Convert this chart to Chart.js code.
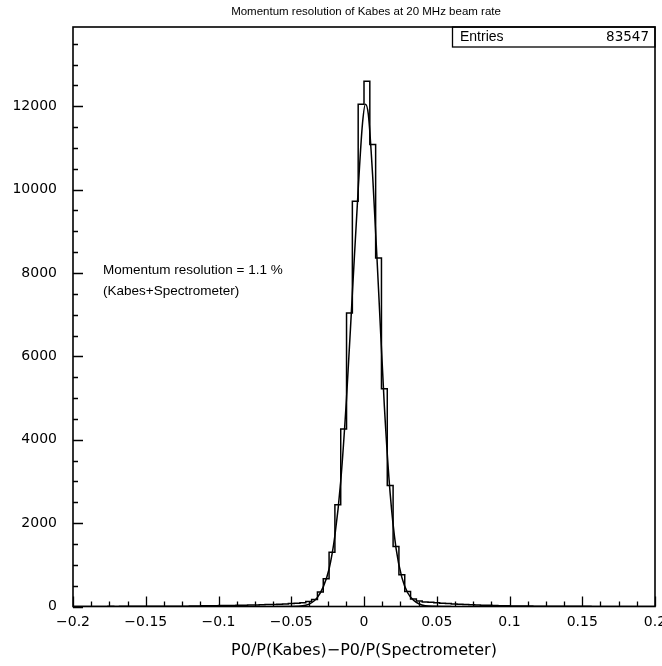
<!DOCTYPE html>
<html>
<head>
<meta charset="utf-8">
<script src="https://cdn.jsdelivr.net/npm/chart.js@4.4.1/dist/chart.umd.min.js"></script>
<style>
  html, body { margin: 0; padding: 0; background: #fff; }
  #plot { display: block; }
</style>
</head>
<body>
<canvas id="plot" width="662" height="666"></canvas>
<script>
// histogram: 100 bins of 0.004 from -0.2 to 0.2 (counts)
const binStart = -0.2;
const binWidth = 0.004;
const binCounts = [
    1, 1, 2, 1, 2, 2, 3, 2, 3, 3,
    3, 4, 4, 5, 5, 6, 6, 7, 8, 8,
    12, 13, 15, 17, 19, 21, 23, 26, 29, 32,
    35, 38, 42, 46, 50, 55, 62, 70, 80, 90,
    120, 170, 350, 665, 1300, 2440, 4260, 7040, 9720, 12050,
    12600, 11080, 8360, 5220, 2900, 1440, 760, 360, 180, 130,
    110, 100, 90, 80, 70, 62, 55, 48, 42, 36,
    31, 27, 23, 20, 17, 14, 12, 10, 9, 8,
    7, 6, 5, 5, 4, 4, 3, 3, 3, 2,
    2, 2, 2, 1, 1, 1, 1, 1, 1, 1
];

// fitted curve, points
const fitX = [-0.06, -0.045, -0.04, -0.036, -0.032, -0.028, -0.024, -0.02, -0.016, -0.012, -0.008, -0.004, -0.001, 0.001, 0.003, 0.006, 0.01, 0.014, 0.018, 0.022, 0.026, 0.03, 0.034, 0.038, 0.042, 0.048, 0.06];
const fitY = [0, 8, 30, 90, 220, 470, 900, 1700, 3000, 5000, 7500, 10000, 11600, 12050, 11800, 10300, 7600, 4800, 2700, 1400, 700, 330, 150, 60, 20, 5, 0];

// tick labels
const xTickValues = [-0.2, -0.15, -0.1, -0.05, 0, 0.05, 0.1, 0.15, 0.2];
const yTickValues = [0, 2000, 4000, 6000, 8000, 10000, 12000];

const xMin = -0.2, xMax = 0.2;
const yMax = 13900;
const xMinorStep = 0.0125;
const yMajorStep = 2000, yMinorStep = 500;

const titleText = 'Momentum resolution of Kabes at 20 MHz beam rate';
const xTitleText = 'P0/P(Kabes)\u2212P0/P(Spectrometer)';
const noteLines = ['Momentum resolution = 1.1 %', '(Kabes+Spectrometer)'];
const entries = 83547;

const NUM_FONT = '"DejaVu Sans", sans-serif';
const TXT_FONT = '"Liberation Sans", Arial, sans-serif';

const histPoints = binCounts.map((c, i) => ({ x: binStart + i * binWidth, y: c }));
histPoints.push({ x: xMax, y: binCounts[binCounts.length - 1] });
const fitPoints = fitX.map((x, i) => ({ x, y: fitY[i] }));

function fmtX(v) {
    const r = Math.round(v * 1000) / 1000;
    return String(r).replace('-', '\u2212');
}

// frame, inward ticks and the PAW style texts
const pawDecor = {
    id: 'pawDecor',
    afterDraw(chart) {
        const { ctx, chartArea: a, scales: { x, y } } = chart;
        ctx.save();
        ctx.strokeStyle = '#000';
        ctx.lineWidth = 1.6;
        ctx.strokeRect(a.left, a.top, a.right - a.left, a.bottom - a.top);

        ctx.lineWidth = 1.3;
        ctx.beginPath();
        for (let k = 0; k * yMinorStep <= yMax; k++) {
            const v = k * yMinorStep;
            const py = Math.round(y.getPixelForValue(v)) + 0.5;
            const len = v % yMajorStep === 0 ? 10 : 5;
            ctx.moveTo(a.left, py);
            ctx.lineTo(a.left + len, py);
        }
        const nx = Math.round((xMax - xMin) / xMinorStep);
        for (let k = 0; k <= nx; k++) {
            const px = Math.round(x.getPixelForValue(xMin + k * xMinorStep)) + 0.5;
            const len = k % 4 === 0 ? 10 : 5;
            ctx.moveTo(px, a.bottom);
            ctx.lineTo(px, a.bottom - len);
        }
        ctx.stroke();

        ctx.fillStyle = '#000';
        ctx.textBaseline = 'middle';
        ctx.font = '11.5px ' + TXT_FONT;
        ctx.textAlign = 'center';
        ctx.fillText(titleText, 366, 12);

        // entries box
        ctx.lineWidth = 1.3;
        ctx.strokeRect(452.5, a.top, a.right - 452.5, 20);
        ctx.font = '14px ' + TXT_FONT;
        ctx.textAlign = 'left';
        ctx.fillText('Entries', 460, a.top + 10);
        ctx.font = '13.5px ' + NUM_FONT;
        ctx.textAlign = 'right';
        ctx.fillText(String(entries), a.right - 6, a.top + 10);

        ctx.font = '13.5px ' + TXT_FONT;
        ctx.textAlign = 'left';
        ctx.fillText(noteLines[0], 103, 270);
        ctx.fillText(noteLines[1], 103, 291);

        ctx.font = '16px ' + NUM_FONT;
        ctx.textAlign = 'center';
        ctx.fillText(xTitleText, 364, 651);
        ctx.restore();
    }
};

new Chart(document.getElementById('plot').getContext('2d'), {
    type: 'line',
    data: {
        datasets: [
            {
                label: 'histogram',
                data: histPoints,
                stepped: 'before',
                borderColor: '#000',
                borderWidth: 1.5,
                pointRadius: 0,
                fill: false
            },
            {
                label: 'fit',
                data: fitPoints,
                cubicInterpolationMode: 'monotone',
                borderColor: '#000',
                borderWidth: 1.5,
                pointRadius: 0,
                fill: false
            }
        ]
    },
    options: {
        responsive: false,
        animation: false,
        layout: { autoPadding: false, padding: { left: 0, right: 7, top: 27, bottom: 0 } },
        plugins: { legend: { display: false }, tooltip: { enabled: false }, title: { display: false } },
        scales: {
            x: {
                type: 'linear',
                min: xMin,
                max: xMax,
                grid: { display: false, drawTicks: false },
                border: { display: false },
                afterBuildTicks: s => { s.ticks = xTickValues.map(v => ({ value: v })); },
                ticks: {
                    autoSkip: false,
                    maxRotation: 0,
                    padding: 7,
                    color: '#000',
                    font: { family: NUM_FONT, size: 14 },
                    callback: v => fmtX(v)
                },
                afterFit: s => { s.height = 59.5; s.paddingLeft = 0; s.paddingRight = 0; }
            },
            y: {
                type: 'linear',
                min: 0,
                max: yMax,
                grid: { display: false, drawTicks: false },
                border: { display: false },
                afterBuildTicks: s => { s.ticks = yTickValues.map(v => ({ value: v })); },
                ticks: {
                    autoSkip: false,
                    padding: 16,
                    color: '#000',
                    font: { family: NUM_FONT, size: 14 },
                    callback: v => String(v)
                },
                afterFit: s => { s.width = 73; s.paddingTop = 0; s.paddingBottom = 0; }
            }
        }
    },
    plugins: [pawDecor]
});
</script>
</body>
</html>
